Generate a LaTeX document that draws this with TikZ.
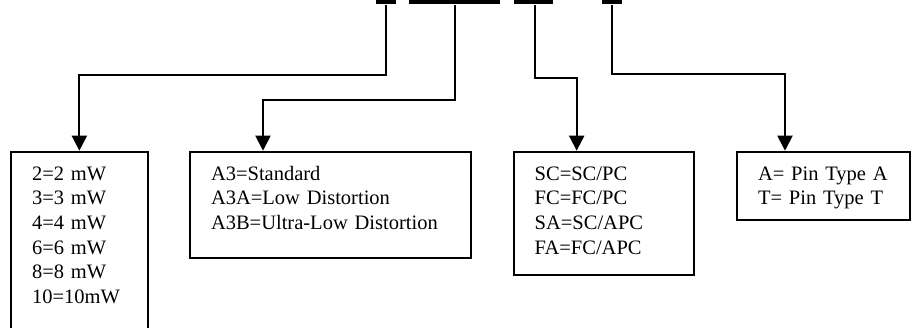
\documentclass[tikz,border=0pt]{standalone}
\usepackage{fontspec}
\setmainfont{Liberation Serif}
\usepackage{tikz}
\usetikzlibrary{arrows.meta, positioning}

\begin{document}
\begin{tikzpicture}[x=1pt, y=-1pt, line width=2pt,
  every node/.style={font=\fontsize{20.5}{24.6}\selectfont},
  bar/.style={fill=black, draw=none, inner sep=0pt, minimum height=4pt},
  optbox/.style={draw, anchor=north west, align=left, inner xsep=21pt, inner ysep=0pt, text height=28.6pt},
  conn/.style={-{Triangle[width=15pt, length=15pt]}}]
\useasboundingbox (0,0) rectangle (911,327);
\node[bar, minimum width=20pt] (bar1) at (386,2) {};
\node[bar, minimum width=91pt] (bar2) at (454.5,2) {};
\node[bar, minimum width=39pt] (bar3) at (533.5,2) {};
\node[bar, minimum width=20pt] (bar4) at (612,2) {};

\node[optbox, text width=94.7pt, text depth=200pt] (power) at (10,150.7) {2=2 mW\\3=3 mW\\4=4 mW\\6=6 mW\\8=8 mW\\10=10mW};
\node[optbox, text width=239pt, text depth=77.8pt] (distortion) at (189,150.7) {A3=Standard\\A3A=Low Distortion\\A3B=Ultra-Low Distortion};
\node[optbox, text width=138.6pt, text depth=94.8pt] (connector) at (512.7,150.7) {SC=SC/PC\\FC=FC/PC\\SA=SC/APC\\FA=FC/APC};
\node[optbox, text width=131pt, text depth=39.8pt] (pintype) at (736,150.7) {A= Pin Type A\\T= Pin Type T};

\draw[conn] (bar1.south) -- ++(0,70) -| (power.north);
\draw[conn] (bar2.south) -- ++(0,95.3) -| ([xshift=74pt]distortion.north west);
\draw[conn] ([xshift=1.5pt]bar3.south) -- ++(0,72.7) -| ([xshift=64pt]connector.north west);
\draw[conn] (bar4.south) -- ++(0,69.3) -| ([xshift=49pt]pintype.north west);
\end{tikzpicture}
\end{document}
